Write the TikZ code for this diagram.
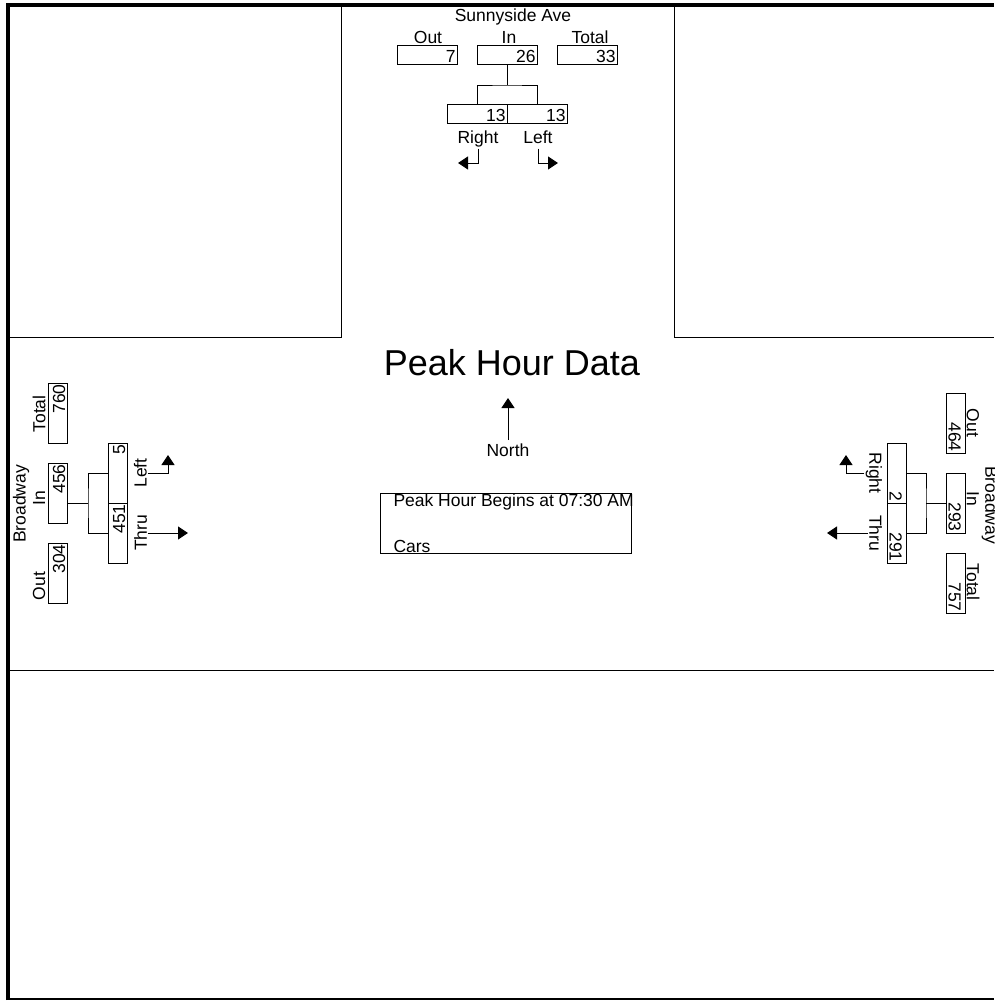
\documentclass[tikz,border=0pt]{standalone}
\usepackage{fontspec}
\setmainfont{Liberation Sans}
\usetikzlibrary{arrows.meta}

\tikzset{
  box/.style={draw, line width=1pt, minimum width=60pt, minimum height=19pt,
    text width=57pt, align=right, inner xsep=1.5pt, inner ysep=0pt,
    text height=15pt, text depth=0pt},
  lbl/.style={inner sep=1pt},
  arr/.style={line width=1pt, -{Triangle[length=10pt,width=13pt]}},
}

\begin{document}
\begin{tikzpicture}[x=1pt, y=-1pt, line width=1pt, font=\fontsize{17.5}{20}\selectfont]
    \useasboundingbox (0,0) rectangle (994,1002);

    % Marco y manzanas
    \draw[line width=4pt] (8,1000) -- (8,5.3) -- (994,5.3);
    \draw[line width=2pt] (8,999) -- (994,999);
    \draw (341,5.3) -- (341,337) -- (8,337);
    \draw (674,5.3) -- (674,337) -- (994,337);
    \draw (8,670) -- (994,670);

    % Norte: Sunnyside Ave
    \node[lbl, anchor=base] (nStreet) at (513,21) {Sunnyside Ave};
    \node[lbl, anchor=base] (nOutL) at (428,43.5) {Out};
    \node[lbl, anchor=base] (nInL) at (509,43.5) {In};
    \node[lbl, anchor=base] (nTotL) at (590,43.5) {Total};
    \node[box] (nOut) at (427,54.5) {7};
    \node[box] (nIn) at (507,54.5) {26};
    \node[box] (nTot) at (587,54.5) {33};
    \node[box] (nRight) at (477,113.5) {13};
    \node[box] (nLeft) at (537,113.5) {13};
    \coordinate (nFork) at (507,85);
    \draw (nIn.south) -- (nFork);
    \draw (nRight.north) |- (nFork) -| (nLeft.north);
    \node[lbl, anchor=base] (nRightL) at (478,143.5) {Right};
    \node[lbl, anchor=base] (nLeftL) at (538,143.5) {Left};
    \coordinate (nRightT) at (458,163);
    \coordinate (nLeftT) at (558,163);
    \draw[arr] (nRightL.south) |- (nRightT);
    \draw[arr] (nLeftL.south |- nRightL.south) |- (nLeftT);

    % Oeste: Broadway
    \node[lbl, rotate=90] (wStreet) at (21,504) {Broadway};
    \node[lbl, rotate=90] (wTotL) at (39,414) {Total};
    \node[lbl, rotate=90] (wInL) at (39,498) {In};
    \node[lbl, rotate=90] (wOutL) at (39,586) {Out};
    \node[box, rotate=90] (wTot) at (57.5,413) {760};
    \node[box, rotate=90] (wIn) at (57.5,493) {456};
    \node[box, rotate=90] (wOut) at (57.5,573) {304};
    \node[box, rotate=90] (wLeft) at (117.5,473) {5};
    \node[box, rotate=90] (wThru) at (117.5,533) {451};
    \coordinate (wFork) at (88,503);
    \draw (wIn.south |- wFork) -- (wFork);
    \draw (wLeft.north) -| (wFork) |- (wThru.north);
    \node[lbl, rotate=90] (wLeftL) at (140.5,473) {Left};
    \node[lbl, rotate=90] (wThruL) at (140.5,533) {Thru};
    \coordinate (wLeftT) at (168,455);
    \coordinate (wThruT) at (188,533);
    \draw[arr] (wLeftL.south) -| (wLeftT);
    \draw[arr] (wThruL.south) -- (wThruT);

    % Este: Broadway
    \node[lbl, rotate=-90] (eStreet) at (990,505) {Broadway};
    \node[lbl, rotate=-90] (eOutL) at (973,423) {Out};
    \node[lbl, rotate=-90] (eInL) at (973,499) {In};
    \node[lbl, rotate=-90] (eTotL) at (973,582) {Total};
    \node[box, rotate=-90] (eOut) at (956,423) {464};
    \node[box, rotate=-90] (eIn) at (956,503) {293};
    \node[box, rotate=-90] (eTot) at (956,583) {757};
    \node[box, rotate=-90] (eRight) at (897,473) {2};
    \node[box, rotate=-90] (eThru) at (897,533) {291};
    \coordinate (eFork) at (926,503);
    \draw (eIn.south) -- (eFork);
    \draw (eRight.north) -| (eFork) |- (eThru.north);
    \node[lbl, rotate=-90] (eRightL) at (874,473) {Right};
    \node[lbl, rotate=-90] (eThruL) at (875.5,533) {Thru};
    \coordinate (eRightT) at (846,455);
    \coordinate (eThruT) at (827,533);
    \draw[arr] (eRightL.south) -| (eRightT);
    \draw[arr] (eThruL.south) -- (eThruT);

    % Titulo y norte
    \node[font=\fontsize{36}{40}\selectfont] (title) at (512,363) {Peak Hour Data};
    \node[lbl, inner sep=3pt] (northL) at (508,450) {North};
    \coordinate (northT) at (508,398);
    \draw[arr] (northL.north) -- (northT);

    % Recuadro de la hora
    \node[draw, minimum width=251pt, minimum height=60pt, inner sep=0pt, anchor=north west] (info) at (380,493) {};
    \node[lbl, anchor=base west] (begins) at (392,506) {Peak Hour Begins at 07:30 AM};
    \node[lbl, anchor=base west] (cars) at (392,552) {Cars};
\end{tikzpicture}
\end{document}
